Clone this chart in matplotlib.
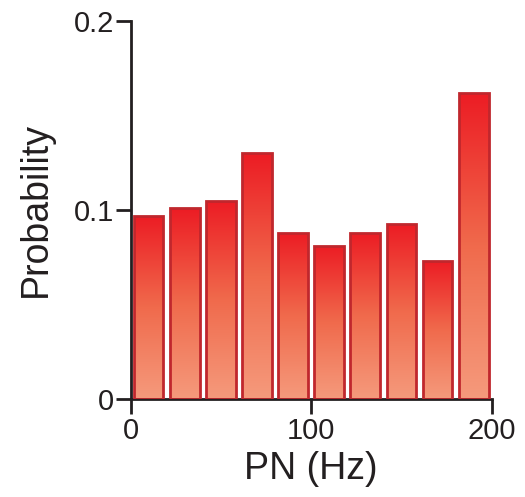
import numpy as np
import matplotlib.pyplot as plt
from matplotlib.colors import LinearSegmentedColormap

plt.rcParams['font.family'] = ['Liberation Sans', 'DejaVu Sans']

# histogram of PN firing rates
bin_centers = [10, 30, 50, 70, 90, 110, 130, 150, 170, 190]
probability = [0.097, 0.101, 0.105, 0.130, 0.088, 0.081, 0.088, 0.0925, 0.073, 0.162]
bar_width = 16.5

# top -> bottom fade for each bar
fade = LinearSegmentedColormap.from_list('fade', ['#f59a7c', '#f06a4c', '#ec1c24'])

fig = plt.figure(figsize=(5.25, 4.97), dpi=100)
ax = fig.add_axes([0.2486, 0.197, 0.688, 0.761])

bars = ax.bar(bin_centers, probability, width=bar_width, color='none',
              edgecolor='#c0272d', linewidth=2, zorder=3)
grad = np.linspace(0, 1, 256).reshape(-1, 1)
for b in bars:
    x0, y0 = b.get_x(), b.get_y()
    w, h = b.get_width(), b.get_height()
    im = ax.imshow(grad, cmap=fade, origin='lower', aspect='auto',
                   extent=[x0, x0 + w, y0, y0 + h], zorder=2)
    im.set_clip_path(b)

ax.set_xlim(0, 200)
ax.set_ylim(0, 0.2)
ax.set_xticks([0, 100, 200])
ax.set_xticklabels(['0', '100', '200'])
ax.set_yticks([0, 0.1, 0.2])
ax.set_yticklabels(['0', '0.1', '0.2'])

for side in ['top', 'right']:
    ax.spines[side].set_visible(False)
for side in ['left', 'bottom']:
    ax.spines[side].set_linewidth(2)
    ax.spines[side].set_color('#231f20')
ax.tick_params(direction='out', length=11, width=2, color='#231f20',
               labelsize=21, colors='#231f20')
ax.tick_params(axis='y', pad=1)
ax.tick_params(axis='x', pad=2)

ax.set_xlabel('PN (Hz)', fontsize=27, color='#231f20', labelpad=4)
ax.set_ylabel('Probability', fontsize=27, color='#231f20', labelpad=14)

fig.savefig('out.png', dpi=100)
